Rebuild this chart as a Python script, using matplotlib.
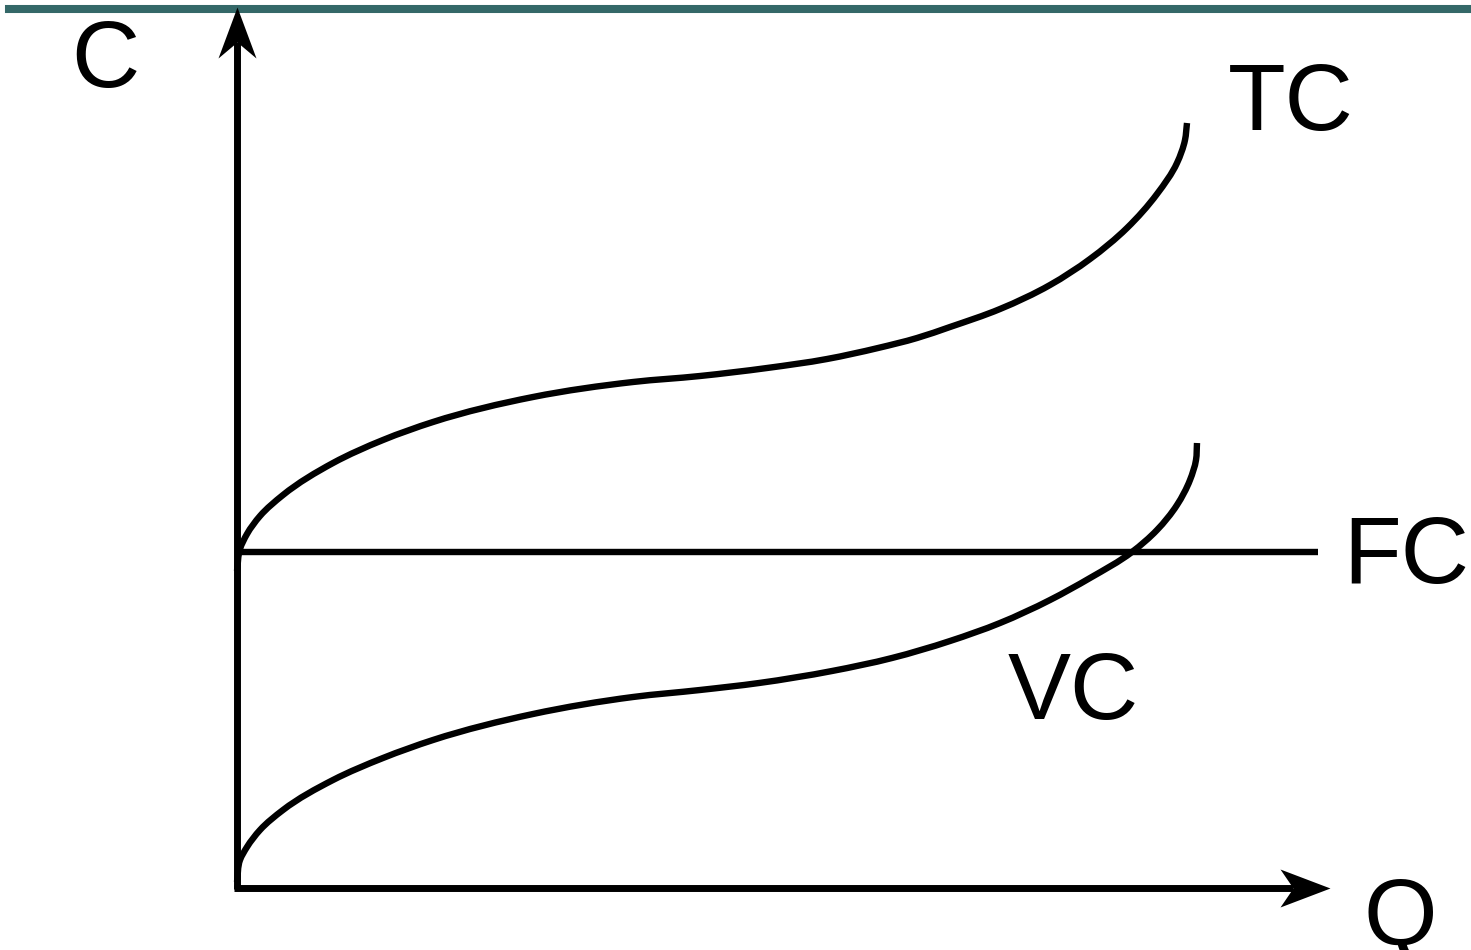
"""
短期成本曲线示意图：总成本 TC、固定成本 FC、可变成本 VC
"""

import matplotlib

matplotlib.use("Agg")
import matplotlib.pyplot as plt
import numpy as np
from matplotlib.patches import PathPatch
from matplotlib.path import Path


# 曲线数据（原点为两轴交点，1 个单位约等于 100 像素）
TC_Q = [0.00, 0.03, 0.10, 0.23, 0.46, 0.96, 1.46, 1.96, 2.96, 3.96, 4.63, 5.30, 5.90,
        6.41, 6.80, 7.13, 7.63, 8.13, 8.53, 8.90, 9.20, 9.40, 9.48, 9.50]
TC_C = [3.16, 3.38, 3.53, 3.71, 3.92, 4.24, 4.47, 4.65, 4.90, 5.05, 5.11, 5.19, 5.28,
        5.39, 5.49, 5.60, 5.78, 6.02, 6.28, 6.59, 6.93, 7.24, 7.47, 7.64]

VC_Q = [0.00, 0.03, 0.10, 0.23, 0.46, 0.96, 1.46, 1.96, 2.96, 3.96, 4.63, 5.22, 5.95,
        6.55, 7.13, 7.63, 8.13, 8.53, 8.95, 9.20, 9.40, 9.53, 9.59, 9.60]
VC_C = [0.05, 0.27, 0.40, 0.57, 0.77, 1.07, 1.29, 1.47, 1.73, 1.90, 1.97, 2.04, 2.16,
        2.29, 2.46, 2.64, 2.87, 3.09, 3.35, 3.57, 3.82, 4.07, 4.27, 4.44]

FC_LEVEL = 3.35     # 固定成本水平线
FC_Q_END = 10.81    # 固定成本线右端

Q_AXIS_END = 10.93  # 横轴箭头尖端
C_AXIS_END = 8.80   # 纵轴箭头尖端

LABELS = ["C", "Q", "TC", "FC", "VC"]


def arrow_marker(vertices):
    """用箭头轮廓生成自定义 marker, 返回 (marker, markersize)."""

    codes = [Path.MOVETO, Path.LINETO, Path.LINETO, Path.LINETO, Path.CLOSEPOLY]
    path = Path(vertices + [vertices[0]], codes)
    max_abs = max(max(abs(x), abs(y)) for x, y in vertices)
    # marker 会被缩放到 ±0.5*markersize 磅, 这里换算成像素
    return path, 2 * max_abs * 0.72


def smooth_path(xs, ys):
    """按弦长参数化的 Hermite 样条, 转成三次贝塞尔路径, 曲线经过每一个读数点."""

    pts = np.column_stack([xs, ys]).astype(float)
    h = np.linalg.norm(np.diff(pts, axis=0), axis=1)     # 每段弦长
    d = np.diff(pts, axis=0) / h[:, None]                # 每段单位方向

    # Bessel 切线: 按相邻两段的长度加权
    m = np.empty_like(pts)
    m[0], m[-1] = d[0], d[-1]
    for i in range(1, len(pts) - 1):
        m[i] = (h[i] * d[i - 1] + h[i - 1] * d[i]) / (h[i - 1] + h[i])

    verts = [pts[0]]
    codes = [Path.MOVETO]
    for i in range(len(pts) - 1):
        verts += [pts[i] + m[i] * h[i] / 3, pts[i + 1] - m[i + 1] * h[i] / 3, pts[i + 1]]
        codes += [Path.CURVE4] * 3
    return Path(verts, codes)


fig = plt.figure(figsize=(14.71, 9.5), dpi=100)
ax = fig.add_axes([0, 0, 1, 1])
ax.set_xlim(-2.37, 12.34)
ax.set_ylim(-0.63, 8.87)
ax.axis("off")

# 顶部的深青色横线
ax.axhline(8.78, xmin=9 / 1471, xmax=1.0, color="#346868", lw=5.8, zorder=1)

# 坐标轴
ax.plot([0, 0], [-0.02, C_AXIS_END - 0.35], color="black", lw=5.0,
        solid_capstyle="butt", zorder=3)
ax.plot([-0.03, Q_AXIS_END - 0.37], [-0.01, -0.01], color="black", lw=5.0,
        solid_capstyle="butt", zorder=3)

up_marker, up_size = arrow_marker([(0, 0), (19, -51), (0, -35), (-19, -51)])
right_marker, right_size = arrow_marker([(0, 0), (-50, 19), (-37, 0), (-50, -19)])
ax.plot([0], [C_AXIS_END], marker=up_marker, markersize=up_size,
        color="black", markeredgewidth=0, zorder=4)
ax.plot([Q_AXIS_END], [-0.01], marker=right_marker, markersize=right_size,
        color="black", markeredgewidth=0, zorder=4)

# 成本曲线
for q, c in [(TC_Q, TC_C), (VC_Q, VC_C)]:
    ax.add_patch(PathPatch(smooth_path(q, c), facecolor="none", edgecolor="black",
                           lw=4.6, capstyle="butt", joinstyle="round", zorder=2))
ax.plot([0, FC_Q_END], [FC_LEVEL, FC_LEVEL], color="black", lw=4.6,
        solid_capstyle="butt", zorder=2)

# 文字标注（基线位置）
label_xy = [(-1.32, 8.00), (11.63, -0.58), (10.54, 7.57), (11.69, 3.04), (8.36, 1.68)]
for text, (x, y) in zip(LABELS, label_xy):
    ax.text(x, y, text, fontsize=68, family=["Liberation Sans", "DejaVu Sans"],
            ha="center", va="baseline", color="black")

fig.savefig("out.png", dpi=100)
plt.close(fig)
